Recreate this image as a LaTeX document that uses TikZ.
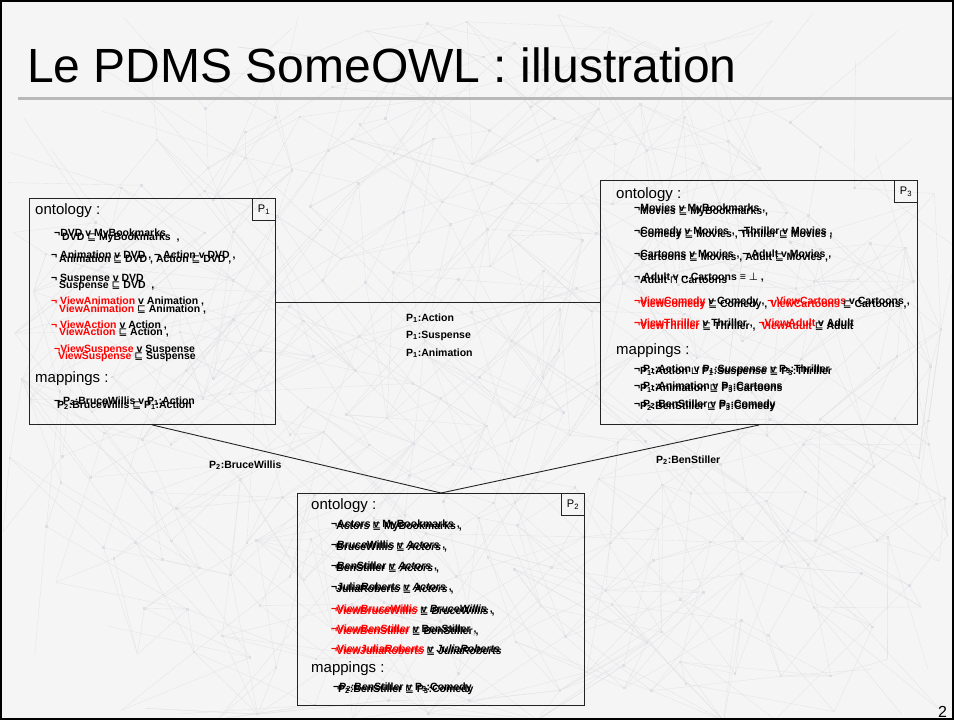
\documentclass[tikz,border=0pt]{standalone}
\usepackage{fontspec}
\setmainfont{Liberation Sans}
\newfontfamily\symf{DejaVu Sans}
\newcommand\symSqs{{\symf\mdseries ⊑}}
\newcommand\symCup{{\symf\mdseries ⊔}}
\newcommand\symCap{{\symf\mdseries ⊓}}
\newcommand\symBot{{\symf\mdseries ⊥}}
\newcommand\redtxt[1]{\textcolor{red}{#1}}
\newcommand\sbs[1]{\textsubscript{#1}}
\definecolor{slidebg}{RGB}{245,245,245}
\definecolor{netline}{RGB}{228,228,232}
\definecolor{netdotc}{RGB}{222,222,228}
\definecolor{edgec}{RGB}{35,35,35}

\begin{document}
\begin{tikzpicture}[x=1pt,y=-1pt,
  net/.style={draw=netline, line width=0.35pt},
  netdot/.style={fill=netdotc},
  peerbox/.style={draw=edgec, line width=1pt, anchor=north west, inner sep=0pt},
  peertag/.style={draw=edgec, line width=1pt, anchor=north east, minimum width=23pt,
    minimum height=22pt, inner sep=0pt, font=\fontsize{11}{12}\selectfont},
  head/.style={anchor=base west, inner sep=0pt, font=\fontsize{15}{17}\selectfont},
  ax/.style={anchor=base west, inner sep=0pt, font=\fontsize{10.5}{12}\selectfont\bfseries},
  link/.style={draw=edgec, line width=0.9pt},
  linklabel/.style={anchor=base west, inner sep=0pt, font=\fontsize{10.5}{12}\selectfont\bfseries}
]
\useasboundingbox (0,0) rectangle (954,720);
\fill[slidebg] (0,0) rectangle (954,720);

% faint network in the background: jittered grid, local random links
\begin{scope}
\clip (0,0) rectangle (954,720);
\pgfmathsetseed{31}
\foreach \c in {0,...,22}{
  \foreach \r in {0,...,16}{
    \pgfmathsetmacro\gx{22+42*\c+38*(rnd-0.5)}
    \pgfmathsetmacro\gy{30+42*\r+38*(rnd-0.5)}
    \coordinate (g-\c-\r) at (\gx,\gy);
  }
}
\foreach \c in {0,...,22}{
  \foreach \r in {0,...,16}{
    \pgfmathsetmacro\ee{((22+42*\c-490)/475)^2+((30+42*\r-395)/370)^2}
    \ifdim\ee pt<1pt
      \foreach \k in {1,...,3}{
        \pgfmathtruncatemacro\cc{max(0,min(22,\c+random(0,6)-3))}
        \pgfmathtruncatemacro\rr{max(0,min(16,\r+random(0,6)-3))}
        \draw[net] (g-\c-\r) -- (g-\cc-\rr);
      }
      \fill[netdot] (g-\c-\r) ++(-1.3,-1.3) rectangle ++(2.6,2.6);
    \fi
  }
}
\end{scope}

% title and rule
\node[anchor=base west, inner sep=0pt, font=\fontsize{48}{50}\selectfont] (title) at (27,82) {Le PDMS SomeOWL : illustration};
\coordinate (ruleL) at (18,98);
\coordinate (ruleR) at (954,98);
\draw[line width=3pt, black!28] (ruleL) -- (ruleR);

% peers
\node[peerbox, minimum width=246pt, minimum height=226pt] (P1) at (29,198) {};
\node[peerbox, minimum width=317pt, minimum height=244pt] (P3) at (600,180) {};
\node[peerbox, minimum width=287pt, minimum height=212pt] (P2) at (297,493) {};
\node[peertag] (P1tag) at (P1.north east) {P\sbs{1}};
\node[peertag] (P3tag) at (P3.north east) {P\sbs{3}};
\node[peertag] (P2tag) at (P2.north east) {P\sbs{2}};

% acquaintance links
\draw[link] (P1.east |- P3.west) -- (P3.west);
\draw[link] (P1.south) -- (P2.north);
\draw[link] (P3.south) -- (P2.north);

\node[linklabel] (l13a) at (406,321) {P\sbs{1}:Action};
\node[linklabel] (l13b) at (406,338) {P\sbs{1}:Suspense};
\node[linklabel] (l13c) at (406,356) {P\sbs{1}:Animation};
\node[linklabel] (l12) at (209,468) {P\sbs{2}:BruceWillis};
\node[linklabel] (l32) at (656,463) {P\sbs{2}:BenStiller};

% P1 contents
\node[head] (h1o) at (35,214) {ontology :};
\node[ax] (a1a) at (54,236) {¬DVD v MyBookmarks};
\node[ax] (a1b) at (62,240) {DVD \symSqs{} MyBookmarks \ ,};
\node[ax] (a2a) at (51,258) {¬ Animation v DVD , ¬ Action v DVD ,};
\node[ax] (a2b) at (59,262) {Animation \symSqs{} DVD , Action \symSqs{} DVD ,};
\node[ax] (a3a) at (51,281) {¬ Suspense v DVD};
\node[ax] (a3b) at (59,288) {Suspense \symSqs{} DVD \ ,};
\node[ax] (a4a) at (51,304) {\redtxt{¬ ViewAnimation} v Animation ,};
\node[ax] (a4b) at (59,312) {\redtxt{ViewAnimation} \symSqs{} Animation ,};
\node[ax] (a5a) at (51,328) {\redtxt{¬ ViewAction} v Action ,};
\node[ax] (a5b) at (59,335) {\redtxt{ViewAction} \symSqs{} Action ,};
\node[ax] (a6a) at (54,352) {\redtxt{¬ViewSuspense} v Suspense};
\node[ax] (a6b) at (58,359) {\redtxt{ViewSuspense} \symSqs{} Suspense};
\node[head] (h1m) at (35,382) {mappings :};
\node[ax] (m1a) at (54,404) {¬ P\sbs{2}:BruceWillis v P\sbs{1}:Action};
\node[ax] (m1b) at (57,408) {P\sbs{2}:BruceWillis \symSqs{} P\sbs{1}:Action};

% P3 contents
\node[head] (h3o) at (616,198) {ontology :};
\node[ax] (c1a) at (634,211) {¬Movies v MyBookmarks ,};
\node[ax] (c1b) at (640,214) {Movies \symSqs{} MyBookmarks ,};
\node[ax] (c2a) at (634,234) {¬Comedy v Movies , ¬Thriller v Movies ,};
\node[ax] (c2b) at (640,237) {Comedy \symSqs{} Movies , Thriller \symSqs{} Movies ,};
\node[ax] (c3a) at (634,257) {¬Cartoons v Movies , ¬ Adult v Movies ,};
\node[ax] (c3b) at (640,260) {Cartoons \symSqs{} Movies , Adult \symSqs{} Movies ,};
\node[ax] (c4a) at (634,280) {¬ Adult v ¬ Cartoons ≡ \symBot{} ,};
\node[ax] (c4b) at (640,283) {Adult \symCap{} Cartoons};
\node[ax] (c5a) at (634,304) {\redtxt{¬ViewComedy} v Comedy , \redtxt{¬ ViewCartoons} v Cartoons ,};
\node[ax] (c5b) at (640,307) {\redtxt{ViewComedy} \symSqs{} Comedy , \redtxt{ViewCartoons} \symSqs{} Cartoons ,};
\node[ax] (c6a) at (634,326) {\redtxt{¬ViewThriller} v Thriller , \ \redtxt{¬ViewAdult} v Adult};
\node[ax] (c6b) at (640,329) {\redtxt{ViewThriller} \symSqs{} Thriller , \ \redtxt{ViewAdult} \symSqs{} Adult};
\node[head] (h3m) at (616,354) {mappings :};
\node[ax] (n1a) at (634,372) {¬ P\sbs{1}:Action v P\sbs{1}:Suspense v P\sbs{3}:Thriller};
\node[ax] (n1b) at (640,374) {P\sbs{1}:Action \symCup{} P\sbs{1}:Suspense \symSqs{} P\sbs{3}:Thriller};
\node[ax] (n2a) at (634,389) {¬ P\sbs{1}:Animation v P\sbs{3}:Cartoons};
\node[ax] (n2b) at (640,391) {P\sbs{1}:Animation \symSqs{} P\sbs{3}:Cartoons};
\node[ax] (n3a) at (634,407) {¬ P\sbs{2}:BenStiller v P\sbs{3}:Comedy};
\node[ax] (n3b) at (640,409) {P\sbs{2}:BenStiller \symSqs{} P\sbs{3}:Comedy};

% P2 contents
\node[head] (h2o) at (311,509) {ontology :};
\node[ax] (b1a) at (331,527) {¬Actors v MyBookmarks ,};
\node[ax] (b1b) at (336,529) {Actors \symSqs{} MyBookmarks ,};
\node[ax] (b2a) at (331,548) {¬BruceWillis v \textit{Actors} ,};
\node[ax] (b2b) at (336,550) {BruceWillis \symSqs{} \textit{Actors} ,};
\node[ax] (b3a) at (331,569) {¬BenStiller v \textit{Actors} ,};
\node[ax] (b3b) at (336,571) {BenStiller \symSqs{} \textit{Actors} ,};
\node[ax] (b4a) at (331,590) {¬JuliaRoberts v \textit{Actors} ,};
\node[ax] (b4b) at (336,592) {JuliaRoberts \symSqs{} \textit{Actors} ,};
\node[ax] (b5a) at (331,612) {\redtxt{¬ViewBruceWillis} v \textit{BruceWillis} ,};
\node[ax] (b5b) at (336,614) {\redtxt{ViewBruceWillis} \symSqs{} \textit{BruceWillis} ,};
\node[ax] (b6a) at (331,632) {\redtxt{¬ViewBenStiller} v BenStiller ,};
\node[ax] (b6b) at (336,634) {\redtxt{ViewBenStiller} \symSqs{} BenStiller ,};
\node[ax] (b7a) at (331,652) {\redtxt{¬ViewJuliaRoberts} v \textit{JuliaRoberts}};
\node[ax] (b7b) at (336,654) {\redtxt{ViewJuliaRoberts} \symSqs{} \textit{JuliaRoberts}};
\node[head] (h2m) at (311,672) {mappings :};
\node[ax] (k1a) at (333,690) {¬P\sbs{2}:BenStiller v P\sbs{3}:Comedy};
\node[ax] (k1b) at (338,692) {P\sbs{2}:BenStiller \symSqs{} P\sbs{3}:Comedy};

% page number and frame
\node[anchor=base west, inner sep=0pt, font=\fontsize{16}{18}\selectfont] (pageno) at (938,717) {2};
\draw[line width=2pt, black] (1,1) rectangle (953,719);
\end{tikzpicture}
\end{document}
